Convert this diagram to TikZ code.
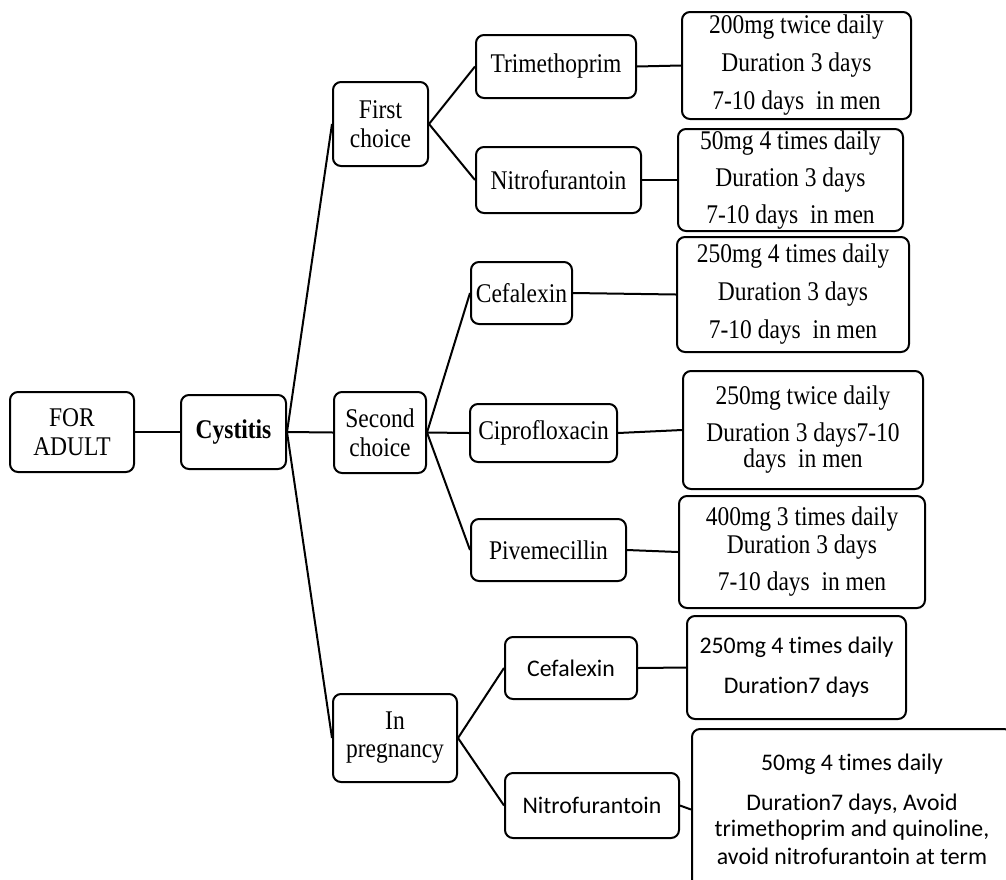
\documentclass[tikz,border=0pt]{standalone}
\usepackage{fontspec}
\setmainfont[FakeStretch=0.87]{Liberation Serif}
\newfontfamily\calfont[Ligatures=NoCommon]{Carlito}
\begin{document}
\begin{tikzpicture}[x=1pt,y=-1pt,
  box/.style={draw=black,line width=2pt,rounded corners=8pt,inner sep=0pt,align=center,
    font=\fontsize{27}{29}\selectfont},
  cbox/.style={box,font=\calfont\fontsize{23.8}{28}\selectfont},
  link/.style={draw=black,line width=2pt}]
\useasboundingbox (0,0) rectangle (1006,879);
\clip (0,0) rectangle (1006,879);
% nodes
\node[box,minimum width=124pt,minimum height=80pt] (adult) at (72,432) {FOR\\ADULT};
\node[box,minimum width=105pt,minimum height=74pt] (cys) at (233.5,432) {\textbf{Cystitis}};
\node[box,minimum width=95pt,minimum height=84pt] (fc) at (380.5,124) {First\\choice};
\node[box,minimum width=160pt,minimum height=63pt] (tri) at (556,66.5) {Trimethoprim};
\node[box,minimum width=165pt,minimum height=66pt] (nit) at (558.5,180) {Nitrofurantoin};
\node[box,minimum width=229pt,minimum height=107pt] (trid) at (796.5,65.5) {200mg twice daily\\[9pt]Duration 3 days\\[9pt]7-10 days\ \ in men};
\node[box,minimum width=225pt,minimum height=102pt] (nitd) at (790.5,180) {50mg 4 times daily\\[8pt]Duration 3 days\\[8pt]7-10 days\ \ in men};
\node[box,minimum width=92pt,minimum height=81pt] (sc) at (380,432.5) {Second\\choice};
\node[box,minimum width=101pt,minimum height=62pt] (cef) at (521.5,293) {Cefalexin};
\node[box,minimum width=147pt,minimum height=58pt] (cip) at (543.5,433) {Ciprofloxacin};
\node[box,minimum width=155pt,minimum height=62pt] (piv) at (548.5,550) {Pivemecillin};
\node[box,minimum width=232pt,minimum height=115pt] (cefd) at (793,294.5) {250mg 4 times daily\\[9pt]Duration 3 days\\[9pt]7-10 days\ \ in men};
\node[box,minimum width=240pt,minimum height=118pt] (cipd) at (803,430) {250mg twice daily\\[8pt]Duration 3 days7-10\\[-3pt]days\ \ in men};
\node[box,minimum width=246pt,minimum height=112pt] (pivd) at (802,552) {400mg 3 times daily\\[-1pt]Duration 3 days\\[8pt]7-10 days\ \ in men};
\node[box,minimum width=124pt,minimum height=88pt] (preg) at (395,738) {In\\[-1pt]pregnancy};
\node[cbox,minimum width=132pt,minimum height=62pt] (pcef) at (571,668) {Cefalexin};
\node[cbox,minimum width=174pt,minimum height=65pt] (pnit) at (592,805.5) {Nitrofurantoin};
\node[cbox,minimum width=219pt,minimum height=103pt] (pcefd) at (796.5,667.5) {250mg 4 times daily\\[12pt]Duration7 days};
\node[cbox,minimum width=320pt,minimum height=161pt] (pnitd) at (852,809.5) {50mg 4 times daily\\[12pt]Duration7 days, Avoid\\[-2pt]trimethoprim and quinoline,\\avoid nitrofurantoin at term};
% connectors
\path[link] (adult.east) -- (cys.west);
\path[link] (cys.east) -- (fc.west);
\path[link] (cys.east) -- (sc.west);
\path[link] (cys.east) -- (preg.west);
\path[link] (fc.east) -- (tri.west);
\path[link] (fc.east) -- (nit.west);
\path[link] (tri.east) -- (trid.west);
\path[link] (nit.east) -- (nitd.west);
\path[link] (sc.east) -- (cef.west);
\path[link] (sc.east) -- (cip.west);
\path[link] (sc.east) -- (piv.west);
\path[link] (cef.east) -- (cefd.west);
\path[link] (cip.east) -- (cipd.west);
\path[link] (piv.east) -- (pivd.west);
\path[link] (preg.east) -- (pcef.west);
\path[link] (preg.east) -- (pnit.west);
\path[link] (pcef.east) -- (pcefd.west);
\path[link] (pnit.east) -- (pnitd.west);
\end{tikzpicture}
\end{document}
